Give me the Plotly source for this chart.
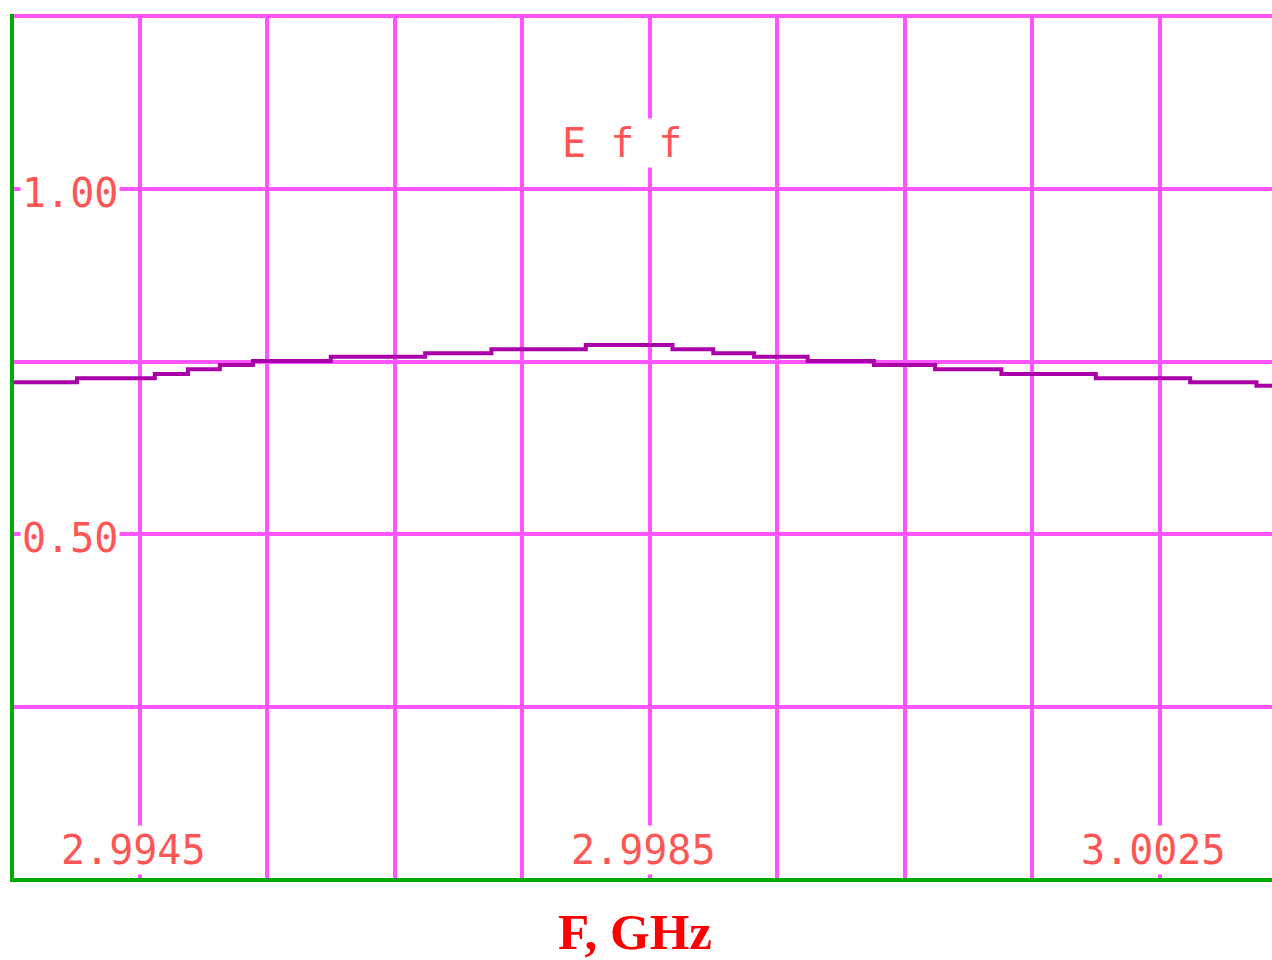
import plotly.graph_objects as go

# ---- data ----
freq_ghz = [2.9935, 2.99401, 2.99462, 2.99488, 2.99513, 2.99539, 2.99600, 2.99674,
            2.99726, 2.99800, 2.99868, 2.99900, 2.99932, 2.99974, 3.00026, 3.00074,
            3.00126, 3.00200, 3.00274, 3.00326, 3.00340]
eff = [0.720, 0.726, 0.732, 0.739, 0.745, 0.751, 0.757, 0.762, 0.768, 0.774,
       0.768, 0.762, 0.757, 0.751, 0.745, 0.739, 0.732, 0.726, 0.720, 0.715, 0.715]

x_tick_vals = [2.9945, 2.9985, 3.0025]
x_tick_text = ["2.9945", "2.9985", "3.0025"]
y_tick_vals = [0.50, 1.00]
y_tick_text = ["0.50", "1.00"]

cursor_x = [2.99852, 3.00201]
cursor_y = [-0.003, -0.006]
cursor_colors = ["#00aaaa", "#ffff55"]
cursor_sizes = [8, 5]

title_text = "E f f"
x_title = "F, GHz"

GRID = "#ff55ff"
AXIS = "#00aa00"
LABEL = "#ff5555"
LINE = "#aa00aa"
MONO = "DejaVu Sans Mono"

fig = go.Figure()
fig.add_trace(go.Scatter(
    x=freq_ghz, y=eff, mode="lines",
    line=dict(color=LINE, width=4, shape="hv"),
    showlegend=False, hoverinfo="skip"))

fig.add_trace(go.Scatter(
    x=cursor_x, y=cursor_y, mode="markers",
    marker=dict(symbol="square", color=cursor_colors, size=cursor_sizes, line=dict(width=0)),
    cliponaxis=False, showlegend=False, hoverinfo="skip"))

annotations = []
for v, t in zip(x_tick_vals, x_tick_text):
    annotations.append(dict(
        x=v, y=0, xref="x", yref="paper", text=t, showarrow=False,
        xanchor="center", yanchor="middle", xshift=-6, yshift=28,
        font=dict(family=MONO, size=40, color=LABEL),
        bgcolor="white", borderpad=1))
for v, t in zip(y_tick_vals, y_tick_text):
    annotations.append(dict(
        x=0, y=v, xref="paper", yref="y", text=t, showarrow=False,
        xanchor="left", yanchor="middle", xshift=6, yshift=-4,
        font=dict(family=MONO, size=40, color=LABEL),
        bgcolor="white", borderpad=1))
annotations.append(dict(
    x=0.4833, y=1.0663, xref="paper", yref="y", text=title_text, showarrow=False,
    xanchor="center", yanchor="middle",
    font=dict(family=MONO, size=40, color=LABEL),
    bgcolor="white", borderpad=1))
annotations.append(dict(
    x=0.4933, y=0, xref="paper", yref="paper", text="<b>" + x_title + "</b>",
    showarrow=False, xanchor="center", yanchor="middle", yshift=-54,
    font=dict(family="Liberation Serif", size=51, color="#ff0000")))

fig.update_layout(
    width=1272, height=960,
    margin=dict(l=14, r=0, t=14, b=82),
    paper_bgcolor="white", plot_bgcolor="white",
    annotations=annotations,
    xaxis=dict(range=[2.9935157, 3.003382], tick0=2.9945, dtick=0.001,
               showgrid=True, gridcolor=GRID, gridwidth=4,
               showticklabels=False, ticks="", zeroline=False,
               showline=True, linecolor=AXIS, linewidth=4, mirror=False),
    yaxis=dict(range=[0.00289, 1.25289], tick0=0, dtick=0.25,
               showgrid=True, gridcolor=GRID, gridwidth=4,
               showticklabels=False, ticks="", zeroline=False,
               showline=True, linecolor=AXIS, linewidth=4, mirror=False),
)

# left axis line continues a little above the plot area, as in the reference
fig.add_shape(type="line", xref="x", yref="paper",
              x0=2.9935, x1=2.9935, y0=1.0, y1=1 + 9 / 864,
              line=dict(color=AXIS, width=4), layer="above")

fig.write_html("out.html")
